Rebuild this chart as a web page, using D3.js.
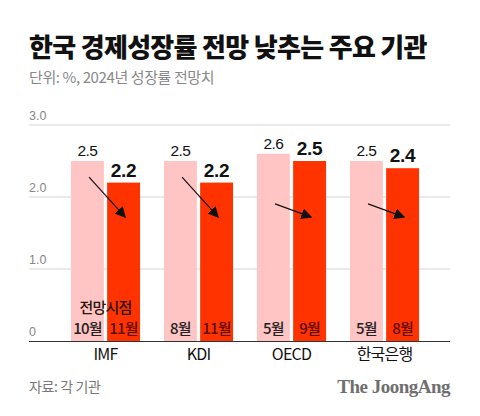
<!DOCTYPE html>
<html><head><meta charset="utf-8">
<script src="https://cdn.jsdelivr.net/npm/d3@7"></script>
<style>
body{margin:0;background:#fff;}
svg{display:block;font-family:"Noto Sans CJK KR","Noto Sans",sans-serif;}
</style></head>
<body><svg id="c" width="480" height="416"></svg>
<script>
const categories = ["IMF", "KDI", "OECD", "한국은행"];
const previousValues = [2.5, 2.5, 2.6, 2.5];
const currentValues = [2.2, 2.2, 2.5, 2.4];
const previousMonths = ["10월", "8월", "5월", "5월"];
const currentMonths = ["11월", "11월", "9월", "8월"];
const yTicks = [0, 1, 2, 3];
const yTickLabels = ["0", "1.0", "2.0", "3.0"];

const svg = d3.select("#c");
const left = 29, right = 450;
const y = d3.scaleLinear().domain([0, 3]).range([341, 125]);
const x = d3.scaleBand().domain(categories).range([59, 431]).paddingInner(0).paddingOuter(0);
const sub = d3.scaleBand().domain(["prev", "curr"]).range([0, x.bandwidth()]).paddingInner(0.09).paddingOuter(0.33);
const pink = "#FFC4C4", red = "#FF3300";

// title
svg.append("text").attr("x", left).attr("y", 57).attr("font-size", 26).attr("font-weight", 900)
  .attr("letter-spacing", -0.7).attr("fill", "#111").text("한국 경제성장률 전망 낮추는 주요 기관");
svg.append("text").attr("x", left).attr("y", 83).attr("font-size", 15).attr("fill", "#888")
  .attr("letter-spacing", -0.4).text("단위: %, 2024년 성장률 전망치");

// grid
const g = svg.append("g");
g.selectAll("line.grid").data(yTicks.filter(d => d > 0)).join("line")
  .attr("x1", left).attr("x2", right).attr("y1", d => y(d)).attr("y2", d => y(d))
  .attr("stroke", "#d4d4d4").attr("stroke-width", 1);
g.selectAll("text.tick").data(yTicks).join("text")
  .attr("x", left).attr("y", d => y(d) - 5).attr("font-size", 12.5).attr("fill", "#888")
  .attr("font-family", "Liberation Sans, Arial, sans-serif").text((d, i) => yTickLabels[i]);

const data = categories.map((c, i) => ({c, prev: previousValues[i], curr: currentValues[i], pm: previousMonths[i], cm: currentMonths[i]}));
const grp = svg.selectAll("g.grp").data(data).join("g").attr("transform", d => `translate(${x(d.c)},0)`);

grp.append("rect").attr("x", sub("prev")).attr("width", sub.bandwidth())
  .attr("y", d => y(d.prev)).attr("height", d => y(0) - y(d.prev)).attr("fill", pink);
grp.append("rect").attr("x", sub("curr")).attr("width", sub.bandwidth())
  .attr("y", d => y(d.curr)).attr("height", d => y(0) - y(d.curr)).attr("fill", red);

// value labels
grp.append("text").attr("x", sub("prev") + sub.bandwidth() / 2).attr("y", d => y(d.prev) - 5)
  .attr("text-anchor", "middle").attr("font-size", 15.5).attr("fill", "#111")
  .attr("font-family", "Liberation Sans, Arial, sans-serif").attr("letter-spacing", -0.5).text(d => d.prev.toFixed(1));
grp.append("text").attr("x", sub("curr") + sub.bandwidth() / 2).attr("y", d => y(d.curr) - 6)
  .attr("text-anchor", "middle").attr("font-size", 19).attr("font-weight", 700).attr("fill", "#111")
  .attr("font-family", "Liberation Sans, Arial, sans-serif").attr("letter-spacing", -0.3).text(d => d.curr.toFixed(1));

// arrows
svg.append("defs").append("marker").attr("id", "ah").attr("viewBox", "0 0 10 10")
  .attr("refX", 9).attr("refY", 5).attr("markerWidth", 11).attr("markerHeight", 11)
  .attr("markerUnits", "userSpaceOnUse").attr("orient", "auto")
  .append("path").attr("d", "M0,0 L10,5 L0,10 Z").attr("fill", "#111");
const arrowEndY = y(1.72);
grp.append("line")
  .attr("x1", sub("prev") + sub.bandwidth() * 0.55)
  .attr("x2", sub("curr") + sub.bandwidth() * 0.55)
  .attr("y1", d => arrowEndY - (y(d.curr) - y(d.prev)) * 1.85)
  .attr("y2", arrowEndY)
  .attr("stroke", "#111").attr("stroke-width", 1.2).attr("marker-end", "url(#ah)");

// month labels
grp.append("text").attr("x", sub("prev") + sub.bandwidth() / 2).attr("y", 334)
  .attr("text-anchor", "middle").attr("font-size", 15).attr("font-weight", 500).attr("fill", "#222").attr("letter-spacing", -0.8).text(d => d.pm);
grp.append("text").attr("x", sub("curr") + sub.bandwidth() / 2).attr("y", 334)
  .attr("text-anchor", "middle").attr("font-size", 15).attr("font-weight", 500).attr("fill", "#5c0a00").attr("letter-spacing", -0.8).text(d => d.cm);
svg.append("text").attr("x", x(categories[0]) + x.bandwidth() / 2).attr("y", 313)
  .attr("text-anchor", "middle").attr("font-size", 15).attr("font-weight", 500).attr("fill", "#2a1510").attr("letter-spacing", -0.8).text("전망시점");

// baseline
svg.append("line").attr("x1", left).attr("x2", right).attr("y1", y(0) + 0.5).attr("y2", y(0) + 0.5)
  .attr("stroke", "#333").attr("stroke-width", 1.2);

// category labels
grp.append("text").attr("x", x.bandwidth() / 2).attr("y", 360).attr("text-anchor", "middle")
  .attr("font-size", 16).attr("fill", "#111").attr("letter-spacing", -0.8).text(d => d.c);

// footer
svg.append("text").attr("x", left).attr("y", 392).attr("font-size", 14).attr("fill", "#777")
  .attr("letter-spacing", -0.4).text("자료: 각 기관");
svg.append("text").attr("x", right).attr("y", 393).attr("text-anchor", "end").attr("font-size", 19)
  .attr("font-weight", 700).attr("fill", "#6f6f6f").attr("font-family", "Liberation Serif, DejaVu Serif, serif")
  .attr("letter-spacing", -0.5).text("The JoongAng");
</script></body></html>
